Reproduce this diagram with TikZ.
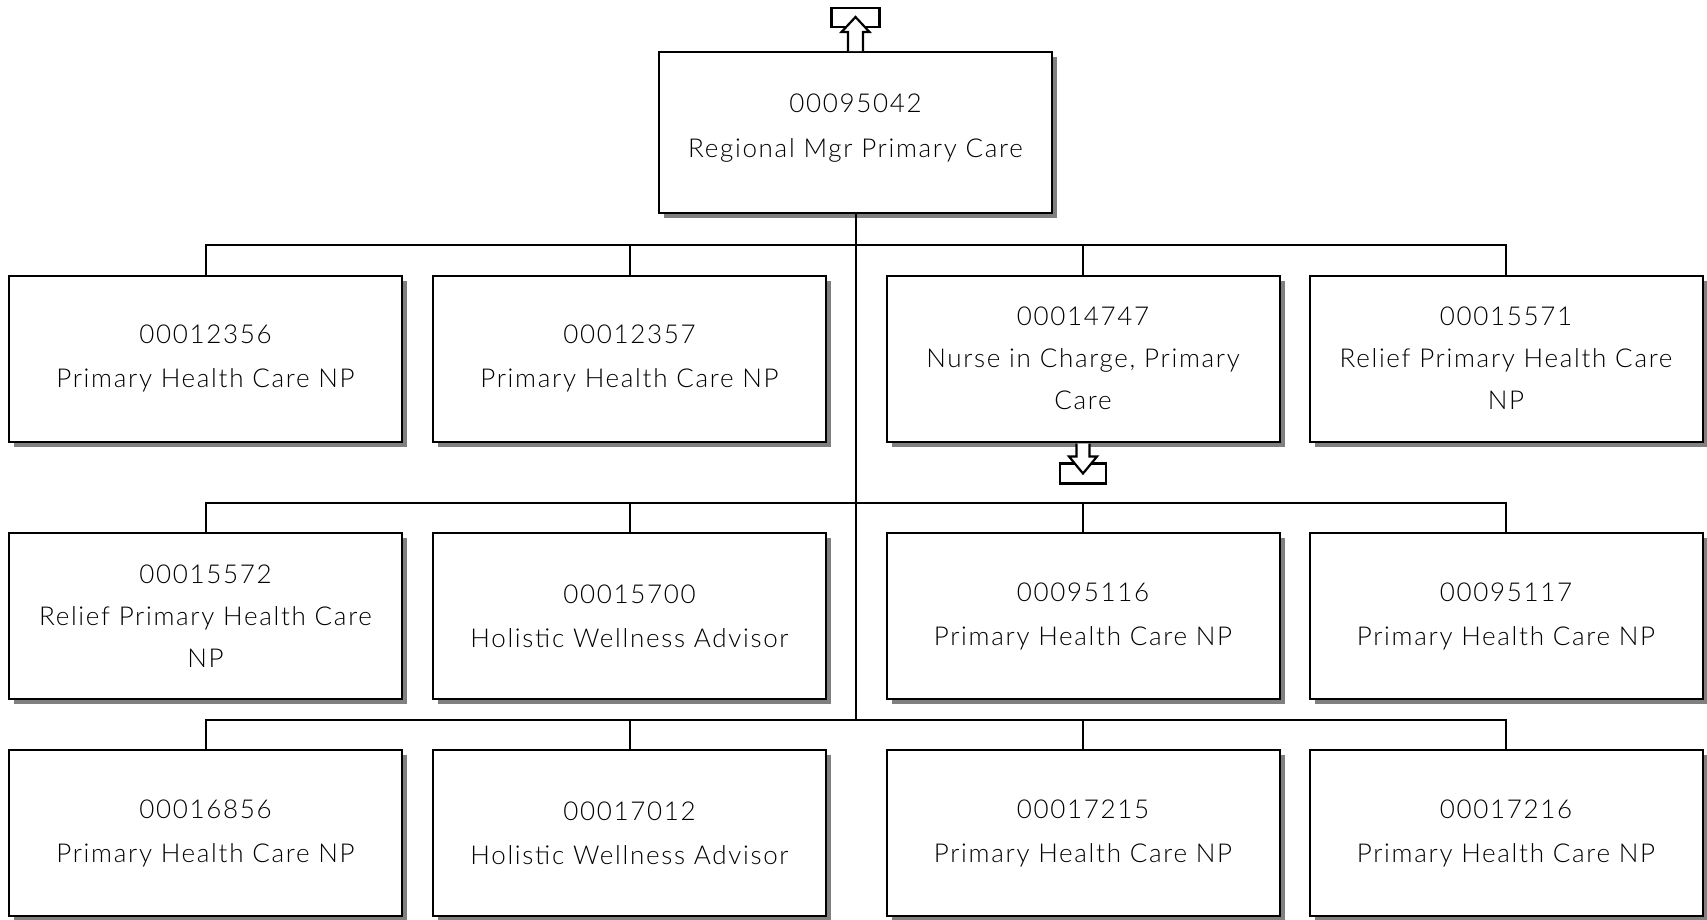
\documentclass[tikz,border=0pt]{standalone}
\usepackage{fontspec}
\setmainfont{Lato Light}[LetterSpace=6.5]
\usetikzlibrary{shadows}
\begin{document}
\begin{tikzpicture}[x=1pt,y=-1pt,
  posbox/.style={draw=black, line width=2pt, fill=white, minimum width=393pt, minimum height=166pt,
    align=center, inner sep=0pt, font=\fontsize{26}{44}\selectfont, text=black,
    drop shadow={shadow xshift=5pt, shadow yshift=-5pt, fill=black!50, opacity=1}},
  conn/.style={draw=black, line width=2pt},
  refmark/.style={draw=black, line width=2.2pt, fill=white, line join=miter}]
\useasboundingbox (0,0) rectangle (1707,919);
% top
\node[posbox, minimum height=161pt, text depth=13pt, font=\fontsize{26}{45}\selectfont] (top) at (855.5,132.5) {00095042\\Regional Mgr Primary Care};
% row 1
\node[posbox] (r11) at (205.5,358.5) {00012356\\Primary Health Care NP};
\node[posbox] (r12) at (629.5,358.5) {00012357\\Primary Health Care NP};
\node[posbox, font=\fontsize{26}{42}\selectfont] (r13) at (1083,358.5) {00014747\\Nurse in Charge, Primary\\Care};
\node[posbox, font=\fontsize{26}{42}\selectfont] (r14) at (1506,358.5) {00015571\\Relief Primary Health Care\\NP};
% row 2
\node[posbox, font=\fontsize{26}{42}\selectfont] (r21) at (205.5,616) {00015572\\Relief Primary Health Care\\NP};
\node[posbox] (r22) at (629.5,616) {00015700\\Holistic Wellness Advisor};
\node[posbox] (r23) at (1083,616) {00095116\\Primary Health Care NP};
\node[posbox] (r24) at (1506,616) {00095117\\Primary Health Care NP};
% row 3
\node[posbox] (r31) at (205.5,833) {00016856\\Primary Health Care NP};
\node[posbox] (r32) at (629.5,833) {00017012\\Holistic Wellness Advisor};
\node[posbox] (r33) at (1083,833) {00017215\\Primary Health Care NP};
\node[posbox] (r34) at (1506,833) {00017216\\Primary Health Care NP};
% buses
\coordinate (bus1) at (855.5,245);
\coordinate (bus2) at (855.5,503);
\coordinate (bus3) at (855.5,720);
\draw[conn] (top.south) -- (bus3);
\foreach \n in {r11,r12,r13,r14} \draw[conn] (\n.north) |- (bus1);
\foreach \n in {r21,r22,r23,r24} \draw[conn] (\n.north) |- (bus2);
\foreach \n in {r31,r32,r33,r34} \draw[conn] (\n.north) |- (bus3);
% top arrow mark
\coordinate (ta) at (top.north);
\draw[refmark] ([xshift=-24pt,yshift=24pt]ta) rectangle ([xshift=24pt,yshift=43pt]ta);
\draw[refmark] ([xshift=-7.5pt,yshift=0pt]ta) -- ([xshift=-7.5pt,yshift=19pt]ta) -- ([xshift=-14pt,yshift=19pt]ta)
  -- ([xshift=0pt,yshift=34pt]ta) -- ([xshift=14pt,yshift=19pt]ta) -- ([xshift=7.5pt,yshift=19pt]ta)
  -- ([xshift=7.5pt,yshift=0pt]ta);
% middle arrow mark
\coordinate (ma) at ([yshift=-1pt]r13.south);
\draw[refmark] ([xshift=-23pt,yshift=-20pt]ma) rectangle ([xshift=23pt,yshift=-40pt]ma);
\draw[refmark] ([xshift=-6.5pt,yshift=0pt]ma) -- ([xshift=-6.5pt,yshift=-13pt]ma) -- ([xshift=-14pt,yshift=-13pt]ma)
  -- ([xshift=0pt,yshift=-30pt]ma) -- ([xshift=14pt,yshift=-13pt]ma) -- ([xshift=6.5pt,yshift=-13pt]ma)
  -- ([xshift=6.5pt,yshift=0pt]ma);
\end{tikzpicture}
\end{document}
